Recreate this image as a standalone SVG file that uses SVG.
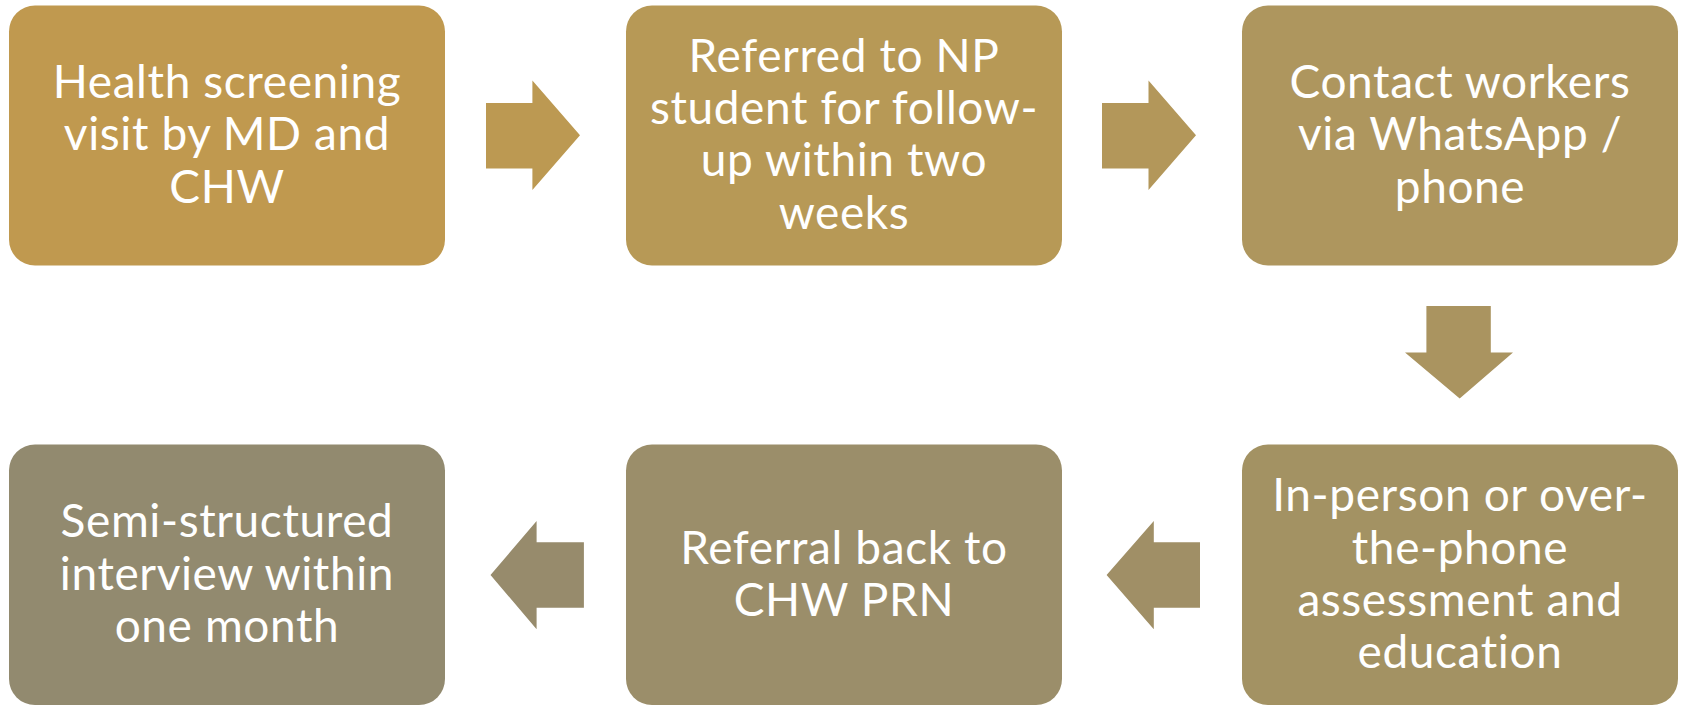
<svg xmlns="http://www.w3.org/2000/svg" width="1683" height="706" viewBox="0 0 1683 706">
<style>
.box{stroke:none}
.t{font-family:Lato,"Liberation Sans",sans-serif;font-size:46px;letter-spacing:0.6px;fill:#ffffff;text-anchor:middle}
</style>
<rect width="1683" height="706" fill="#ffffff"/>
<g id="connectors">
<path d="M486,103 H532.4 V80.5 L580,135.2 L532.4,190 V168.5 H486 Z" fill="#BC9952"/>
<path d="M1102,103 H1148.5 V80.5 L1196,135.2 L1148.5,190 V168.5 H1102 Z" fill="#B3975A"/>
<path d="M1426.4,306 H1490.8 V352.5 H1513 L1459.7,398.5 L1405,352.5 H1426.4 Z" fill="#AA9460"/>
<path d="M1200,542.3 H1153.8 V521 L1106.6,575 L1153.8,629.3 V607.7 H1200 Z" fill="#A08F66"/>
<path d="M583.9,542.3 H536.6 V521 L490.5,575 L536.6,629.3 V607.7 H583.9 Z" fill="#978B6C"/>
</g>
<g id="n1">
<rect class="box" x="9" y="5.5" width="436" height="260" rx="26" fill="#C0994F"/>
<text class="t" x="227" y="97.9">Health screening</text>
<text class="t" x="227" y="150.2">visit by MD and</text>
<text class="t" x="227" y="202.5">CHW</text>
</g>
<g id="n2">
<rect class="box" x="626" y="5.5" width="436" height="260" rx="26" fill="#B79956"/>
<text class="t" x="844" y="71.7">Referred to NP</text>
<text class="t" x="844" y="124">student for follow-</text>
<text class="t" x="844" y="176.4">up within two</text>
<text class="t" x="844" y="228.7">weeks</text>
</g>
<g id="n3">
<rect class="box" x="1242" y="5.5" width="436" height="260" rx="26" fill="#AE965E"/>
<text class="t" x="1460" y="97.9">Contact workers</text>
<text class="t" x="1460" y="150.2">via WhatsApp /</text>
<text class="t" x="1460" y="202.5">phone</text>
</g>
<g id="n4">
<rect class="box" x="1242" y="444.5" width="436" height="260.5" rx="26" fill="#A39263"/>
<text class="t" x="1460" y="511.2">In-person or over-</text>
<text class="t" x="1460" y="563.5">the-phone</text>
<text class="t" x="1460" y="615.9">assessment and</text>
<text class="t" x="1460" y="668.2">education</text>
</g>
<g id="n5">
<rect class="box" x="626" y="444.5" width="436" height="260.5" rx="26" fill="#9B8E6A"/>
<text class="t" x="844" y="563.5">Referral back to</text>
<text class="t" x="844" y="615.9">CHW PRN</text>
</g>
<g id="n6">
<rect class="box" x="9" y="444.5" width="436" height="260.5" rx="26" fill="#928A6F"/>
<text class="t" x="227" y="537.4">Semi-structured</text>
<text class="t" x="227" y="589.7">interview within</text>
<text class="t" x="227" y="642">one month</text>
</g>
</svg>
